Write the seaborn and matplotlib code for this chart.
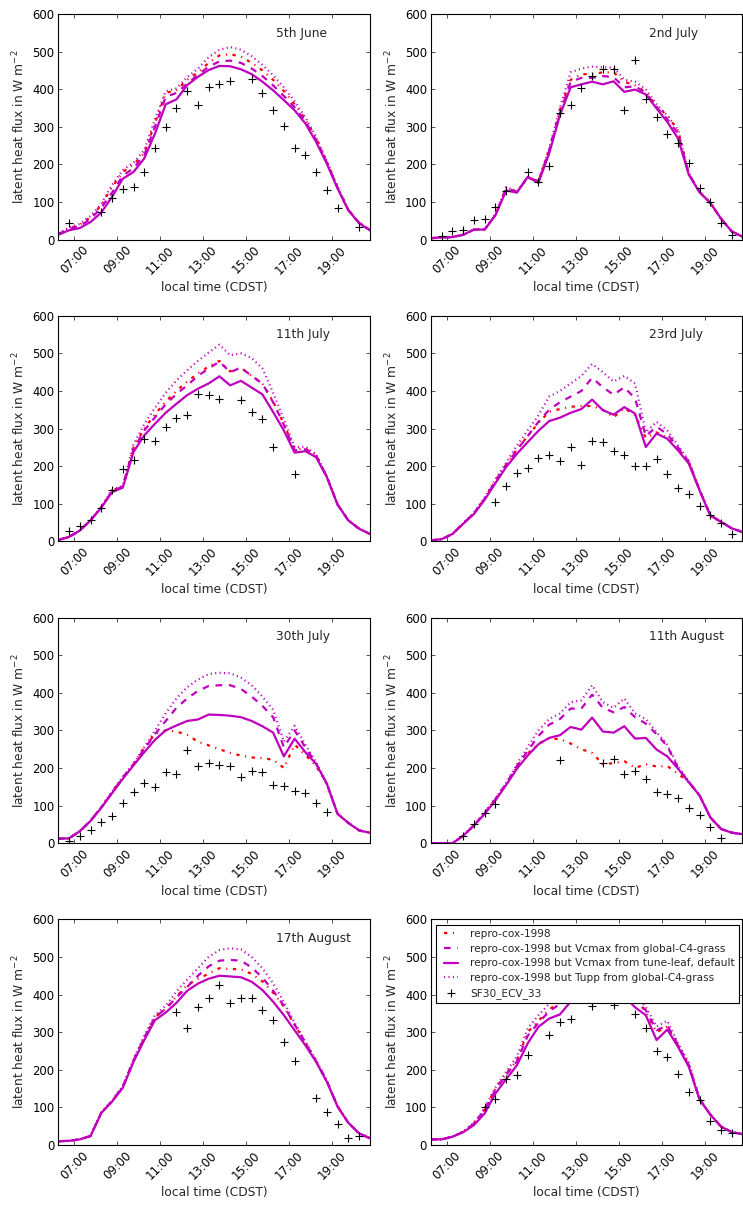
import numpy as np
import matplotlib
matplotlib.use('Agg')
import matplotlib.pyplot as plt
from matplotlib.ticker import FixedLocator
import seaborn as sns

nan = np.nan

# half-hourly model/obs times (local time, CDST)
times = ['06:15', '06:45', '07:15', '07:45', '08:15', '08:45', '09:15', '09:45',
         '10:15', '10:45', '11:15', '11:45', '12:15', '12:45', '13:15', '13:45',
         '14:15', '14:45', '15:15', '15:45', '16:15', '16:45', '17:15', '17:45',
         '18:15', '18:45', '19:15', '19:45', '20:15', '20:45']
tick_labels = ['07:00', '09:00', '11:00', '13:00', '15:00', '17:00', '19:00']
day_names = ['5th June', '2nd July', '11th July', '23rd July',
             '30th July', '11th August', '17th August', '']

series_labels = ['repro-cox-1998',
                 'repro-cox-1998 but Vcmax from global-C4-grass',
                 'repro-cox-1998 but Vcmax from tune-leaf, default',
                 'repro-cox-1998 but Tupp from global-C4-grass']
obs_label = 'SF30_ECV_33'

# 5th June
jun05_cox = [15, 30, 40, 60, 92, 140, 180, 200, 230, 310, 390, 398, 425, 445, 470, 490, 493, 487, 470, 450, 425, 395, 360, 320, 270, 207, 140, 80, 45, 26]
jun05_c4 = [15, 28, 36, 55, 85, 125, 170, 190, 225, 300, 380, 390, 415, 438, 460, 474, 476, 470, 455, 435, 410, 382, 352, 315, 265, 205, 138, 79, 45, 26]
jun05_tune = [13, 25, 31, 47, 72, 114, 162, 180, 216, 282, 360, 373, 411, 433, 451, 462, 461, 453, 440, 420, 397, 371, 344, 309, 260, 202, 136, 78, 44, 25]
jun05_tupp = [16, 32, 42, 63, 95, 145, 185, 205, 238, 320, 395, 402, 432, 455, 485, 505, 512, 505, 488, 465, 437, 405, 368, 325, 273, 209, 141, 80, 45, 26]
jun05_obs = [nan, 44, nan, nan, 73, 112, 136, 140, 180, 243, 300, 349, 395, 358, 406, 413, 422, nan, 428, 391, 346, 303, 243, 224, 181, 133, 84, nan, 34, nan]

# 2nd July
jul02_cox = [4, 6, 7, 13, 27, 27, 66, 138, 127, 166, 155, 240, 345, 425, 440, 440, 445, 445, 420, 410, 392, 355, 330, 290, 175, 127, 98, 56, 22, 8]
jul02_c4 = [4, 6, 7, 13, 27, 27, 66, 137, 127, 165, 155, 237, 335, 420, 430, 430, 435, 432, 405, 408, 390, 352, 320, 282, 175, 127, 98, 56, 22, 8]
jul02_tune = [4, 6, 7, 13, 27, 27, 65, 131, 125, 167, 151, 229, 331, 405, 413, 420, 413, 421, 393, 399, 386, 349, 313, 269, 173, 126, 98, 56, 22, 8]
jul02_tupp = [4, 6, 7, 13, 27, 27, 67, 140, 128, 167, 156, 242, 350, 445, 455, 460, 458, 458, 425, 420, 400, 360, 330, 292, 176, 127, 98, 56, 22, 8]
jul02_obs = [nan, 9, 22, 27, 51, 55, 87, 130, nan, 179, 153, 196, 337, 357, 404, 436, 453, 455, 345, 477, 375, 327, 280, 257, 204, 138, 99, 45, 12, nan]

# 11th July
jul11_cox = [4, 12, 29, 56, 91, 135, 147, 250, 300, 338, 372, 400, 425, 447, 465, 480, 452, 462, 440, 420, 372, 312, 245, 247, 230, 172, 98, 56, 34, 20]
jul11_c4 = [4, 12, 29, 56, 91, 134, 146, 245, 295, 330, 365, 392, 415, 440, 460, 478, 450, 462, 440, 420, 370, 310, 242, 245, 228, 172, 98, 56, 34, 20]
jul11_tune = [4, 12, 29, 56, 90, 131, 143, 238, 282, 313, 342, 366, 389, 406, 420, 439, 415, 427, 409, 391, 344, 295, 236, 240, 224, 171, 98, 56, 34, 20]
jul11_tupp = [4, 12, 29, 56, 92, 137, 148, 258, 312, 355, 395, 428, 455, 480, 502, 523, 495, 500, 488, 460, 395, 325, 250, 252, 232, 173, 98, 56, 34, 20]
jul11_obs = [nan, 29, 40, 58, 90, 136, 193, 217, 272, 267, 305, 328, 337, 392, 390, 379, nan, 377, 343, 325, 252, nan, 178, nan, nan, nan, nan, nan, nan, nan]

# 23rd July
jul23_cox = [3, 6, 20, 48, 75, 115, 162, 205, 245, 280, 315, 345, 352, 358, 360, 360, 350, 330, 355, 335, 275, 290, 275, 245, 210, 137, 70, 52, 35, 25]
jul23_c4 = [3, 6, 20, 48, 75, 114, 160, 203, 243, 280, 318, 350, 370, 385, 400, 435, 410, 390, 410, 380, 280, 305, 285, 250, 212, 137, 70, 52, 35, 25]
jul23_tune = [3, 6, 20, 47, 73, 111, 155, 198, 233, 264, 294, 320, 329, 342, 352, 377, 349, 337, 357, 340, 251, 287, 273, 242, 207, 136, 69, 52, 35, 25]
jul23_tupp = [3, 6, 20, 48, 76, 117, 165, 210, 255, 295, 335, 385, 400, 420, 440, 472, 450, 425, 440, 420, 290, 318, 295, 255, 215, 138, 70, 52, 35, 25]
jul23_obs = [nan, nan, nan, nan, nan, nan, 104, 147, 182, 195, 221, 231, 214, 251, 204, 266, 265, 240, 229, 201, 201, 219, 178, 143, 126, 94, 69, 50, 19, nan]

# 30th July
jul30_cox = [12, 13, 32, 60, 96, 136, 175, 210, 255, 290, 300, 297, 288, 270, 260, 250, 240, 233, 228, 226, 222, 200, 262, 235, 205, 158, 78, 54, 34, 28]
jul30_c4 = [12, 13, 32, 60, 95, 135, 174, 210, 250, 290, 325, 360, 385, 405, 418, 420, 420, 410, 390, 365, 335, 255, 300, 255, 212, 158, 78, 54, 34, 28]
jul30_tune = [12, 13, 32, 59, 94, 133, 171, 207, 242, 275, 300, 313, 325, 329, 342, 341, 339, 335, 325, 311, 294, 231, 278, 242, 211, 158, 78, 54, 34, 28]
jul30_tupp = [12, 13, 32, 60, 96, 137, 176, 212, 255, 300, 345, 385, 415, 435, 450, 453, 452, 440, 420, 390, 355, 270, 312, 262, 215, 160, 78, 54, 34, 28]
jul30_obs = [nan, 6, 19, 35, 56, 72, 108, 135, 160, 150, 190, 184, 248, 205, 214, 207, 205, 177, 191, 190, 156, 152, 140, 133, 107, 83, nan, nan, nan, nan]

# 11th August
aug11_cox = [0, 0, 0, 20, 48, 80, 118, 158, 205, 238, 265, 278, 277, 265, 250, 240, 210, 213, 218, 200, 210, 204, 205, 185, 162, 127, 69, 38, 28, 24]
aug11_c4 = [0, 0, 0, 20, 48, 80, 117, 158, 205, 245, 285, 315, 330, 358, 358, 395, 360, 348, 362, 335, 318, 290, 258, 200, 163, 127, 69, 38, 28, 24]
aug11_tune = [0, 0, 0, 20, 47, 78, 114, 155, 198, 233, 263, 280, 287, 309, 302, 334, 297, 294, 311, 278, 280, 249, 231, 198, 162, 127, 69, 38, 28, 24]
aug11_tupp = [0, 0, 0, 20, 48, 81, 119, 160, 210, 255, 300, 330, 345, 375, 380, 420, 375, 360, 385, 345, 330, 295, 262, 205, 165, 128, 69, 38, 28, 24]
aug11_obs = [nan, nan, nan, 20, 52, 81, 104, nan, nan, nan, nan, nan, 222, nan, nan, nan, 214, 225, 185, 193, 170, 137, 130, 120, 93, 74, 42, 13, nan, nan]

# 17th August
aug17_cox = [10, 11, 15, 24, 86, 117, 155, 225, 285, 340, 362, 395, 425, 442, 455, 470, 468, 467, 455, 435, 405, 368, 320, 272, 223, 170, 103, 59, 31, 18]
aug17_c4 = [10, 11, 15, 24, 86, 117, 155, 225, 285, 340, 362, 392, 420, 450, 475, 490, 492, 490, 472, 445, 410, 370, 320, 272, 223, 170, 103, 59, 31, 18]
aug17_tune = [10, 11, 15, 24, 85, 115, 152, 221, 279, 332, 352, 378, 410, 429, 442, 450, 448, 446, 434, 412, 381, 345, 305, 265, 221, 168, 102, 59, 31, 18]
aug17_tupp = [10, 11, 15, 24, 86, 118, 157, 228, 290, 345, 370, 408, 440, 470, 500, 518, 523, 520, 500, 470, 430, 380, 325, 275, 225, 171, 103, 59, 31, 18]
aug17_obs = [nan, nan, nan, nan, nan, nan, nan, nan, nan, nan, nan, 354, 311, 368, 392, 424, 377, 390, 390, 360, 332, 275, 224, nan, 125, 88, 55, 19, 23, nan]

# last panel (title hidden under the legend)
last_cox = [15, 15, 22, 35, 58, 95, 150, 190, 225, 300, 330, 360, 380, 400, 420, 430, 435, 430, 420, 390, 354, 300, 315, 265, 212, 122, 81, 49, 34, 29]
last_c4 = [15, 15, 22, 35, 57, 93, 147, 187, 222, 290, 325, 355, 375, 395, 415, 425, 430, 425, 415, 388, 358, 305, 318, 266, 213, 122, 81, 49, 34, 29]
last_tune = [15, 15, 22, 34, 53, 84, 137, 175, 212, 270, 314, 336, 347, 381, 395, 405, 410, 405, 395, 366, 345, 279, 307, 261, 208, 121, 81, 49, 34, 29]
last_tupp = [15, 15, 22, 36, 59, 97, 153, 195, 235, 310, 345, 375, 395, 415, 435, 445, 450, 445, 430, 400, 367, 315, 330, 270, 220, 123, 81, 49, 34, 29]
last_obs = [nan, nan, nan, nan, nan, 100, 121, 175, 187, 239, nan, 292, 327, 335, nan, 369, nan, 372, nan, 347, 310, 250, 233, 189, 140, 119, 64, 40, 31, nan]

panels = [
    (jun05_cox, jun05_c4, jun05_tune, jun05_tupp, jun05_obs),
    (jul02_cox, jul02_c4, jul02_tune, jul02_tupp, jul02_obs),
    (jul11_cox, jul11_c4, jul11_tune, jul11_tupp, jul11_obs),
    (jul23_cox, jul23_c4, jul23_tune, jul23_tupp, jul23_obs),
    (jul30_cox, jul30_c4, jul30_tune, jul30_tupp, jul30_obs),
    (aug11_cox, aug11_c4, aug11_tune, aug11_tupp, aug11_obs),
    (aug17_cox, aug17_c4, aug17_tune, aug17_tupp, aug17_obs),
    (last_cox, last_c4, last_tune, last_tupp, last_obs),
]


def to_hours(t):
    h, m = t.split(':')
    return int(h) + int(m) / 60.0


hours = np.array([to_hours(t) for t in times])
tick_pos = [to_hours(t) for t in tick_labels]

sns.set_style('ticks')
plt.rcParams.update({
    'font.family': ['DejaVu Sans'],
    'font.size': 11,
    'axes.labelsize': 11,
    'xtick.labelsize': 10.5,
    'ytick.labelsize': 10.5,
    'xtick.direction': 'in',
    'ytick.direction': 'in',
    'xtick.top': True,
    'ytick.right': True,
    'xtick.major.size': 4,
    'ytick.major.size': 4,
    'xtick.major.width': 0.6,
    'ytick.major.width': 0.6,
    'xtick.color': 'k',
    'ytick.color': 'k',
    'axes.edgecolor': 'k',
    'axes.linewidth': 1.0,
    'lines.scale_dashes': False,
    'lines.dashed_pattern': [6, 6],
    'lines.dashdot_pattern': [3, 5, 1, 5],
    'lines.dotted_pattern': [1, 3],
    'legend.fontsize': 9.5,
})

styles = [('r', '-.'), ('m', '--'), ('m', '-'), ('m', ':')]

fig, axes = plt.subplots(4, 2, figsize=(743 / 80, 1205 / 80), dpi=80)
fig.subplots_adjust(left=0.0785, right=0.9993, top=0.9884, bottom=0.0498,
                    wspace=0.1965, hspace=0.337)

for ax, data, name in zip(axes.flat, panels, day_names):
    for vals, (col, ls), lab in zip(data[:4], styles, series_labels):
        sns.lineplot(x=hours, y=np.array(vals, dtype=float), ax=ax, color=col,
                     linestyle=ls, linewidth=2, label=lab, legend=False)
    obs = np.array(data[4], dtype=float)
    ok = ~np.isnan(obs)
    sns.scatterplot(x=hours[ok], y=obs[ok], ax=ax, marker='+', color='k',
                    s=40, linewidth=1.0, label=obs_label, legend=False, zorder=5)
    ax.set_xlim(6.25, 20.75)
    ax.set_ylim(0, 600)
    ax.set_yticks([0, 100, 200, 300, 400, 500, 600])
    ax.xaxis.set_major_locator(FixedLocator(tick_pos))
    ax.set_xticklabels(tick_labels, rotation=45, ha='center')
    ax.set_xlabel('local time (CDST)')
    ax.set_ylabel(r'latent heat flux in W m$^{-2}$')
    if name:
        ax.text(0.7, 0.9, name, transform=ax.transAxes, fontsize=11)

ax = axes[3, 1]
leg = ax.legend(loc='upper left', numpoints=2, scatterpoints=1, fancybox=False,
                framealpha=1, edgecolor='k', borderaxespad=0.5, handlelength=2.0,
                borderpad=0.4, labelspacing=0.45, handletextpad=0.8)
leg.get_frame().set_linewidth(1.0)

fig.savefig('out.png', dpi=80, facecolor='white')
